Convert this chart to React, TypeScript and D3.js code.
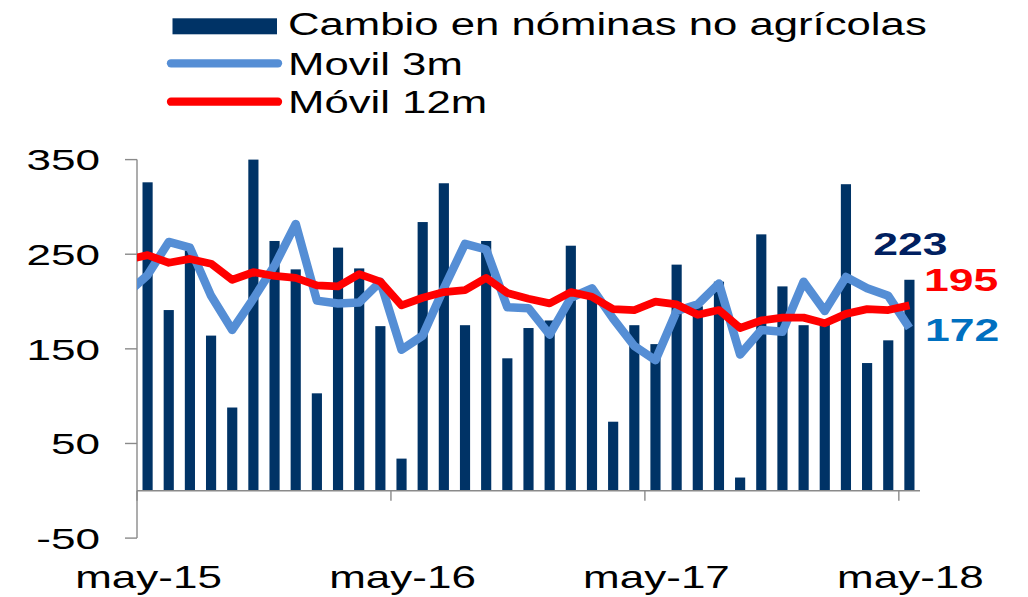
import React from "react";
import * as d3 from "d3";

// ---- data ----
const months = [
  "may-15","jun-15","jul-15","ago-15","sep-15","oct-15","nov-15","dic-15","ene-16","feb-16","mar-16","abr-16",
  "may-16","jun-16","jul-16","ago-16","sep-16","oct-16","nov-16","dic-16","ene-17","feb-17","mar-17","abr-17",
  "may-17","jun-17","jul-17","ago-17","sep-17","oct-17","nov-17","dic-17","ene-18","feb-18","mar-18","abr-18",
  "may-18",
];
const nominas = [
  326, 191, 254, 164, 88, 350, 264, 234, 103, 257,
  235, 174, 34, 284, 325, 175, 264, 140, 172, 180,
  259, 205, 73, 175, 155, 239, 195, 221, 14, 271,
  216, 175, 180, 324, 135, 159, 223,
];
// previous month (abr-15) value, partially visible at the left edge
const movil3Prev = 208;
const movil3 = [
  228, 263, 257, 206, 170, 203, 238, 282, 201, 198,
  199, 221, 149, 164, 214, 261, 255, 194, 193, 165,
  204, 214, 182, 153, 138, 190, 197, 219, 144, 170,
  168, 221, 190, 226, 214, 206, 172,
];
const movil12Prev = 244;
const movil12 = [
  249, 241, 245, 240, 223, 231, 227, 225, 217, 216,
  229, 221, 196, 204, 210, 212, 225, 209, 203, 198,
  210, 205, 192, 191, 200, 197, 186, 191, 172, 180,
  183, 183, 177, 187, 192, 191, 196,
];
const yTicks = [350, 250, 150, 50, -50];
const xTickLabels = ["may-15", "may-16", "may-17", "may-18"];
const legendLabels = ["Cambio en nóminas no agrícolas", "Movil 3m", "Móvil 12m"];

// ---- styling ----
const C_BAR = "#003366";
const C_BLUE = "#558ED5";
const C_RED = "#FF0000";
const C_AXIS = "#8a8a8a";
const FONT = "'Liberation Sans', Arial, sans-serif";

const W = 1028;
const H = 597;
const X0 = 137;
const X1 = 920;

export default function App() {
  const idx = months.map((_, i) => i);
  const xBand = d3.scaleBand<number>().domain(idx).range([X0, X1]).paddingInner(0.52).paddingOuter(0.26);
  const xLin = d3.scaleLinear().domain([-0.5, months.length - 0.5]).range([X0, X1]);
  const y = d3.scaleLinear().domain([-50, 350]).range([538.1, 159.6]);

  const line = d3
    .line<[number, number]>()
    .x((d) => xLin(d[0]))
    .y((d) => y(d[1]))
    .curve(d3.curveLinear);

  const blueData: [number, number][] = [[-1, movil3Prev], ...movil3.map((v, i) => [i, v] as [number, number])];
  const redData: [number, number][] = [[-1, movil12Prev], ...movil12.map((v, i) => [i, v] as [number, number])];

  const last = months.length - 1;
  const step = xBand.step();

  const stretched = (
    x: number,
    yy: number,
    sx: number,
    txt: string,
    props: any,
    key?: string | number
  ) => (
    <text key={key} transform={`translate(${x},${yy}) scale(${sx},1)`} fontFamily={FONT} {...props}>
      {txt}
    </text>
  );

  const tickIdx = [0, 12, 24, 36];

  return (
    <svg width={W} height={H} style={{ position: "absolute", left: 0, top: 0 }}>
      <rect x={0} y={0} width={W} height={H} fill="#ffffff" />
      <defs>
        <clipPath id="plotClip">
          <rect x={X0} y={0} width={W - X0} height={H} />
        </clipPath>
      </defs>

      {/* legend */}
      <rect x={172.5} y={18.3} width={104.5} height={16} fill={C_BAR} />
      <line x1={171} x2={278} y1={63.3} y2={63.3} stroke={C_BLUE} strokeWidth={8.3} strokeLinecap="round" />
      <line x1={171} x2={278} y1={101.7} y2={101.7} stroke={C_RED} strokeWidth={8.3} strokeLinecap="round" />
      {stretched(288, 34.5, 1.41, legendLabels[0], { fontSize: 31, fill: "#000" }, "l0")}
      {stretched(288, 75, 1.41, legendLabels[1], { fontSize: 31, fill: "#000" }, "l1")}
      {stretched(288, 113, 1.41, legendLabels[2], { fontSize: 31, fill: "#000" }, "l2")}

      {/* bars */}
      {nominas.map((v, i) => (
        <rect
          key={"b" + i}
          x={xBand(i)!}
          y={Math.min(y(v), y(0))}
          width={xBand.bandwidth()}
          height={Math.abs(y(v) - y(0))}
          fill={C_BAR}
        />
      ))}

      {/* y axis */}
      <line x1={X0} x2={X0} y1={y(350)} y2={y(-50)} stroke={C_AXIS} strokeWidth={1.4} />
      {yTicks.map((t) => (
        <g key={"yt" + t}>
          <line x1={125} x2={X0} y1={y(t)} y2={y(t)} stroke={C_AXIS} strokeWidth={1.4} />
          {stretched(100, y(t) + 10.8, 1.47, String(t), { fontSize: 30, fill: "#000", textAnchor: "end" })}
        </g>
      ))}

      {/* x axis */}
      <line x1={X0} x2={X1} y1={y(0)} y2={y(0)} stroke={C_AXIS} strokeWidth={1.4} />
      {tickIdx.map((ti) => (
        <line
          key={"xt" + ti}
          x1={X0 + ti * step}
          x2={X0 + ti * step}
          y1={y(0)}
          y2={y(0) + 10}
          stroke={C_AXIS}
          strokeWidth={1.4}
        />
      ))}
      {tickIdx.map((ti, k) =>
        stretched(xBand(ti)! + xBand.bandwidth() / 2 + 1, 588, 1.376, xTickLabels[k], {
          fontSize: 32,
          fill: "#000",
          textAnchor: "middle",
        }, "xl" + k)
      )}

      {/* lines */}
      <g clipPath="url(#plotClip)">
        <path d={line(blueData) || ""} fill="none" stroke={C_BLUE} strokeWidth={8.5} strokeLinejoin="round" />
        <path d={line(redData) || ""} fill="none" stroke={C_RED} strokeWidth={7.8} strokeLinejoin="round" />
      </g>

      {/* end labels */}
      {stretched(xLin(last) + 1, y(nominas[last]) - 25, 1.39, String(nominas[last]), {
        fontSize: 32,
        fontWeight: "bold",
        fill: "#002060",
        textAnchor: "middle",
      }, "v1")}
      {stretched(xLin(last) + 14.5, y(movil12[last]) - 14.5, 1.39, "195", {
        fontSize: 32,
        fontWeight: "bold",
        fill: C_RED,
      }, "v2")}
      {stretched(xLin(last) + 15.5, y(movil3[last]) + 13, 1.39, String(movil3[last]), {
        fontSize: 32,
        fontWeight: "bold",
        fill: "#0070C0",
      }, "v3")}
    </svg>
  );
}
